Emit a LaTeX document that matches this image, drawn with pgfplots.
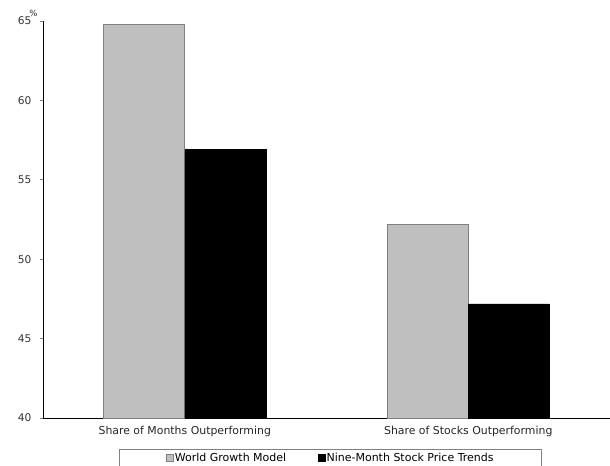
\documentclass[border=0pt]{standalone}
\usepackage{pgfplots}
\pgfplotsset{compat=1.18}
\usepackage{fontspec}
\setmainfont{DejaVu Sans}
\definecolor{barGray}{HTML}{BFBFBF}
\definecolor{edgeGray}{HTML}{7F7F7F}
\begin{document}
\begin{tikzpicture}
\useasboundingbox (-43bp,-48bp) rectangle (567bp,418bp);
\begin{axis}[
  at={(0,0)}, anchor=south west,
  scale only axis, width=567bp, height=397bp,
  xmin=-0.5, xmax=1.5, ymin=40, ymax=65,
  ytick={40,45,50,55,60,65},
  xtick={0,1},
  xticklabels={Share of Months Outperforming, Share of Stocks Outperforming},
  axis x line*=bottom, axis y line*=left,
  axis line style={black, line width=0.9pt},
  x axis line style={-}, y axis line style={-},
  major x tick style={draw=none},
  ytick style={draw=gray, line width=0.6pt},
  tick align=outside, major tick length=3bp,
  font=\fontsize{10.6bp}{12bp}\selectfont,
  xticklabel style={font=\fontsize{10.9bp}{12bp}\selectfont, text=black!85, yshift=-2bp},
  /pgf/number format/assume math mode=true,
  yticklabel style={text=black!80, xshift=-5bp},
  ybar=0pt, bar width=81bp,
  legend style={at={(axis description cs:0.5,0)}, anchor=north, xshift=4bp, yshift=-30.7bp,
    draw=gray, line width=0.6pt, legend columns=2, font=\fontsize{11bp}{12bp}\selectfont,
    inner xsep=47bp, inner ysep=2bp,
    nodes={inner xsep=1bp},
    /tikz/every even column/.append style={column sep=31bp}},
  legend cell align=left,
  clip=false,
]
\addplot[fill=barGray, draw=edgeGray, line width=0.7pt,
  legend image code/.code={\draw[fill=barGray, draw=edgeGray, line width=0.5pt] (0bp,-3.5bp) rectangle (7bp,3.5bp);}]
  coordinates {(0,64.77) (1,52.17)};
\addplot[fill=black, draw=black, line width=0.3pt,
  legend image code/.code={\draw[fill=black] (0bp,-3.5bp) rectangle (7bp,3.5bp);}]
  coordinates {(0,56.9) (1,47.18)};
\legend{World Growth Model, Nine-Month Stock Price Trends}
\node[anchor=south east, font=\fontsize{8.5bp}{9bp}\selectfont, text=black!80] at (axis cs:-0.5,65) [xshift=-2bp, yshift=1bp] {\%};
\end{axis}
\end{tikzpicture}
\end{document}
